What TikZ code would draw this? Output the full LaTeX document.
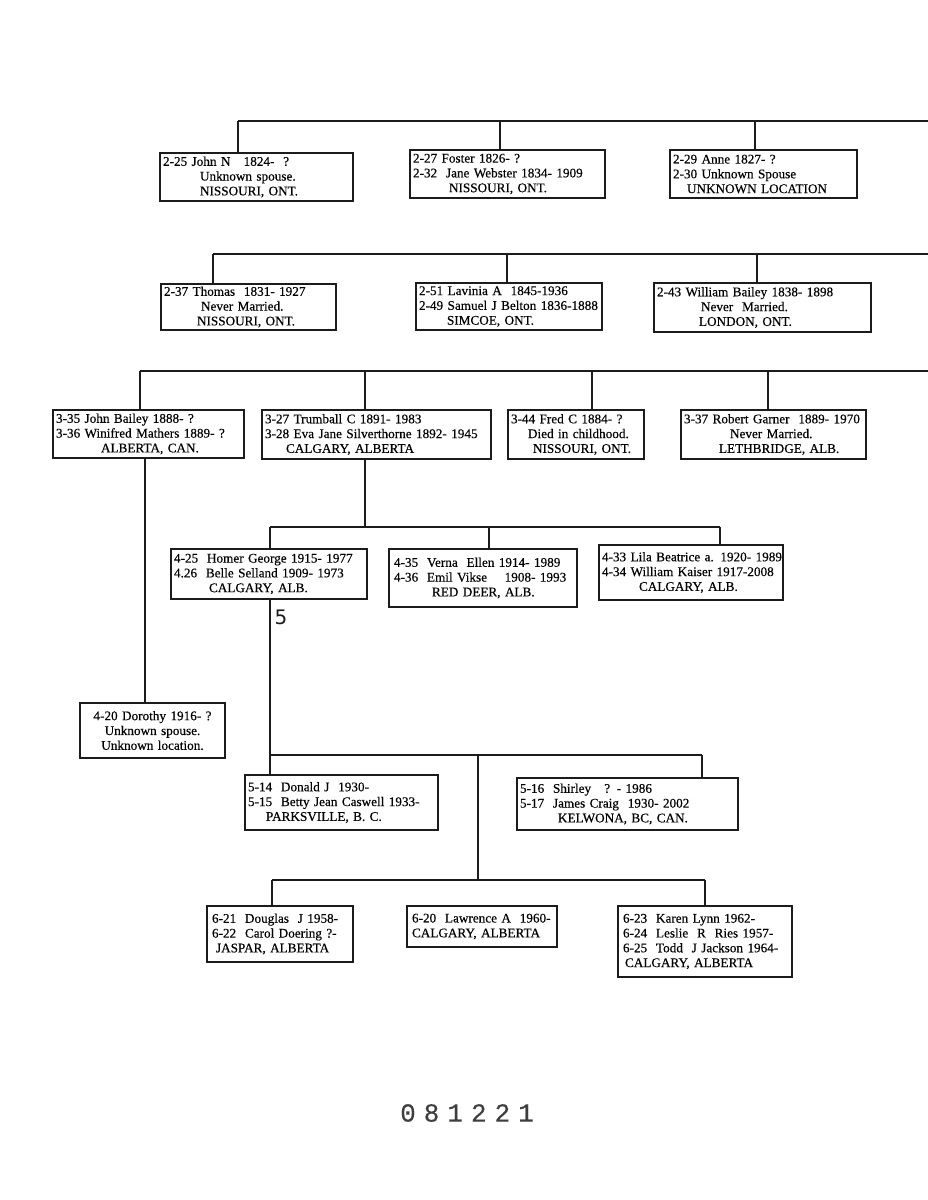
\documentclass[tikz,border=0pt]{standalone}
\usepackage{fontspec}
\setmainfont[FakeBold=0.35]{Liberation Serif}
\newfontfamily\stampfont[FakeBold=0.15]{Liberation Mono}
\newfontfamily\handfont{DejaVu Sans}
\definecolor{ink}{HTML}{1C1C1C}
\newcommand\ind[1]{\hspace*{#1pt}}
\newcommand\lnbox[1]{\mbox{#1}}
\tikzset{
  famline/.style={draw=ink, line width=1.4pt},
  box/.style={draw=ink, line width=1.4pt, fill=white, inner xsep=3pt, inner ysep=0pt,
              align=left, font=\fontsize{13.2}{14.8}\selectfont, text=black},
}
\begin{document}
\begin{tikzpicture}[x=1pt,y=-1pt]
\useasboundingbox (0,0) rectangle (928,1200);
\fill[white] (0,0) rectangle (928,1200);

% ---------- row 1
\coordinate (r1a) at (238,121);
\coordinate (r1b) at (500,121);
\coordinate (r1c) at (755,121);
\coordinate (r1e) at (928,121);
\node[box, text width=187pt, minimum height=48pt] (b1) at (256.5,177)
 {\lnbox{2-25 John N\ \ \ 1824-\ \ ?}\\\ind{37}Unknown spouse.\\\ind{37}NISSOURI,\ ONT.};
\node[box, text width=189pt, minimum height=48pt] (b2) at (507.5,174)
 {\lnbox{2-27\ Foster 1826-\ ?}\\\lnbox{2-32\ \ Jane Webster 1834- 1909}\\\ind{36}NISSOURI,\ ONT.};
\node[box, text width=181pt, minimum height=48pt] (b3) at (763.5,174)
 {\lnbox{2-29\ Anne\ 1827- ?}\\\lnbox{2-30\ Unknown\ Spouse}\\\ind{14}\lnbox{UNKNOWN\ LOCATION}};
\draw[famline] (r1a) -- (r1e);
\draw[famline] (r1a) -- (r1a |- b1.north);
\draw[famline] (r1b) -- (r1b |- b2.north);
\draw[famline] (r1c) -- (r1c |- b3.north);

% ---------- row 2
\coordinate (r2a) at (213,254);
\coordinate (r2b) at (507,254);
\coordinate (r2c) at (757,254);
\coordinate (r2e) at (928,254);
\node[box, text width=169pt, minimum height=46pt] (b4) at (248.5,307)
 {\lnbox{2-37\ Thomas\ \ 1831- 1927}\\\ind{37}Never Married.\\\ind{33}NISSOURI,\ ONT.};
\node[box, text width=180pt, minimum height=47pt] (b5) at (509,306.5)
 {\lnbox{2-51\ Lavinia A\ \ 1845-1936}\\\lnbox{2-49\ Samuel J Belton 1836-1888}\\\ind{28}SIMCOE,\ ONT.};
\node[box, text width=211pt, minimum height=49pt] (b6) at (762.5,307.5)
 {\lnbox{2-43\ William Bailey 1838- 1898}\\\ind{44}Never\ \ Married.\\\ind{42}LONDON,\ ONT.};
\draw[famline] (r2a) -- (r2e);
\draw[famline] (r2a) -- (r2a |- b4.north);
\draw[famline] (r2b) -- (r2b |- b5.north);
\draw[famline] (r2c) -- (r2c |- b6.north);

% ---------- row 3
\coordinate (r3a) at (140,371);
\coordinate (r3b) at (365,371);
\coordinate (r3c) at (592,371);
\coordinate (r3d) at (768,371);
\coordinate (r3e) at (928,371);
\node[box, text width=185pt, minimum height=48pt] (b7) at (148.5,434)
 {\lnbox{3-35\ John\ Bailey 1888-\ ?}\\\lnbox{3-36\ Winifred Mathers\ 1889- ?}\\\ind{45}ALBERTA,\ CAN.};
\node[box, text width=223pt, minimum height=49pt] (b8) at (376.5,434.5)
 {\lnbox{3-27\ Trumball\ C\ 1891-\ 1983}\\\lnbox{3-28\ Eva Jane Silverthorne\ 1892- 1945}\\\ind{21}\lnbox{CALGARY,\ ALBERTA}};
\node[box, text width=130pt, minimum height=49pt] (b9) at (576,434.5)
 {\lnbox{3-44\ Fred C\ 1884-\ ?}\\\ind{17}\lnbox{Died in childhood.}\\\ind{22}NISSOURI,\ ONT.};
\node[box, text width=179pt, minimum height=49pt] (b10) at (773.5,434.5)
 {\lnbox{3-37\ Robert Garner\ \ 1889-\ 1970}\\\ind{46}Never Married.\\\ind{35}\lnbox{LETHBRIDGE, ALB.}};
\draw[famline] (r3a) -- (r3e);
\draw[famline] (r3a) -- (r3a |- b7.north);
\draw[famline] (r3b) -- (r3b |- b8.north);
\draw[famline] (r3c) -- (r3c |- b9.north);
\draw[famline] (r3d) -- (r3d |- b10.north);

% ---------- Dorothy
\node[box, text width=139pt, minimum height=55pt, align=center] (b14) at (152.5,730.5)
 {4-20 Dorothy\ 1916-\ ?\\Unknown spouse.\\Unknown location.};
\coordinate (d1) at (145,458);
\draw[famline] (d1) -- (d1 |- b14.north);

% ---------- row 4
\coordinate (r4s) at (365,459);
\coordinate (r4m) at (365,527);
\coordinate (r4a) at (270,527);
\coordinate (r4b) at (489,527);
\coordinate (r4c) at (720,527);
\node[box, text width=190pt, minimum height=50pt] (b11) at (269,574)
 {\lnbox{4-25\ \ Homer George 1915- 1977}\\\lnbox{4.26\ \ Belle Selland 1909- 1973}\\\ind{35}CALGARY,\ ALB.};
\node[box, text width=178pt, minimum height=58pt, inner xsep=5pt] (b12) at (483,578)
 {\lnbox{4-35\ \ Verna\ \ Ellen 1914- 1989}\\\lnbox{4-36\ \ Emil Vikse\ \ \ \ 1908- 1993}\\\ind{38}RED DEER,\ ALB.};
\node[box, text width=178pt, minimum height=55pt] (b13) at (691,572.5)
 {\lnbox{4-33\ Lila Beatrice\ a. 1920- 1989}\\\lnbox{4-34\ William Kaiser 1917-2008}\\\ind{37}CALGARY,\ ALB.};
\draw[famline] (r4s) -- (r4m);
\draw[famline] (r4a) -- (r4c);
\draw[famline] (r4a) -- (r4a |- b11.north);
\draw[famline] (r4b) -- (r4b |- b12.north);
\draw[famline] (r4c) -- (r4c |- b13.north);
\node[font=\handfont\fontsize{20}{20}\selectfont, text=ink, inner sep=0pt] (five) at (281,617) {5};

% ---------- row 5
\coordinate (r5s) at (270,599);
\coordinate (r5a) at (270,755);
\coordinate (r5b) at (478,755);
\coordinate (r5c) at (702,755);
\node[box, text width=187pt, minimum height=55pt] (b15) at (341.5,802.5)
 {\lnbox{5-14\ \ Donald J\ \ 1930-}\\\lnbox{5-15\ \ Betty Jean Caswell 1933-}\\\ind{18}\lnbox{PARKSVILLE, B. C.}};
\node[box, text width=215pt, minimum height=52pt] (b16) at (627.5,804)
 {\lnbox{5-16\ \ Shirley\ \ \ ? - 1986}\\\lnbox{5-17\ \ James Craig\ \ 1930- 2002}\\\ind{38}\lnbox{KELWONA, BC, CAN.}};
\draw[famline] (r5s) -- (r5s |- b15.north);
\draw[famline] (r5a) -- (r5c);
\draw[famline] (r5c) -- (r5c |- b16.north);

% ---------- row 6
\coordinate (r6m) at (478,880);
\coordinate (r6a) at (272,880);
\coordinate (r6c) at (705,880);
\node[box, text width=136pt, minimum height=56pt, inner xsep=5pt] (b17) at (280,934)
 {\lnbox{6-21\ \ Douglas\ \ J 1958-}\\\lnbox{6-22\ \ Carol Doering ?-}\\\ind{4}\lnbox{JASPAR,\ ALBERTA}};
\node[box, text width=140pt, minimum height=41pt, inner xsep=5pt] (b18) at (482,926.5)
 {\lnbox{6-20\ \ Lawrence A\ \ 1960-}\\\lnbox{CALGARY,\ ALBERTA}};
\node[box, text width=164pt, minimum height=71pt, inner xsep=5pt] (b19) at (705,941.5)
 {\lnbox{6-23\ \ Karen Lynn 1962-}\\\lnbox{6-24\ \ Leslie\ \ R\ \ Ries 1957-}\\\lnbox{6-25\ \ Todd\ \ J Jackson 1964-}\\\ind{2}\lnbox{CALGARY,\ ALBERTA}};
\draw[famline] (r5b) -- (r6m);
\draw[famline] (r6a) -- (r6c);
\draw[famline] (r6a) -- (r6a |- b17.north);
\draw[famline] (r6c) -- (r6c |- b19.north);

% ---------- stamp
\node[font=\stampfont\fontsize{26}{26}\selectfont, text=ink!85, inner sep=0pt] (stamp) at (467,1113)
 {0\hspace{8pt}8\hspace{8pt}1\hspace{8pt}2\hspace{8pt}2\hspace{8pt}1};
\end{tikzpicture}
\end{document}
